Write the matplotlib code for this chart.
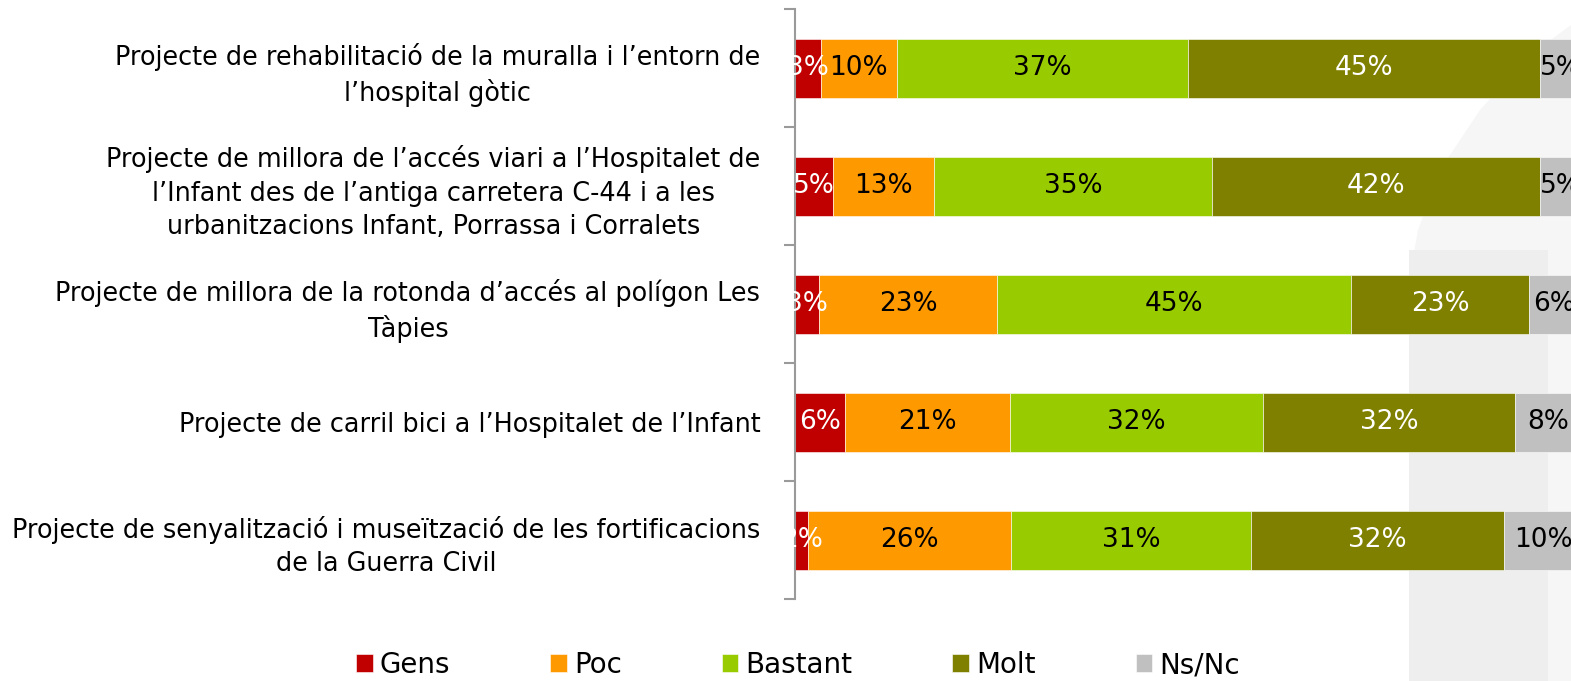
import numpy as np
import matplotlib.pyplot as plt
from matplotlib.patches import Polygon

plt.rcParams['font.family'] = ['DejaVu Sans']

projects = [
    "Projecte de rehabilitació de la muralla i l’entorn de\nl’hospital gòtic",
    "Projecte de millora de l’accés viari a l’Hospitalet de\nl’Infant des de l’antiga carretera C-44 i a les\nurbanitzacions Infant, Porrassa i Corralets",
    "Projecte de millora de la rotonda d’accés al polígon Les\nTàpies",
    "Projecte de carril bici a l’Hospitalet de l’Infant",
    "Projecte de senyalització i museïtzació de les fortificacions\nde la Guerra Civil",
]
categories = ['Gens', 'Poc', 'Bastant', 'Molt', 'Ns/Nc']
gens = [3.3, 4.8, 3.1, 6.4, 1.7]
poc = [9.6, 12.9, 22.6, 20.9, 25.7]
bastant = [37.0, 35.3, 45.0, 32.2, 30.6]
molt = [44.8, 41.7, 22.6, 32.0, 32.1]
nsnc = [5.3, 5.3, 6.4, 8.4, 9.9]

colors = ['#C00000', '#FF9900', '#99CC00', '#808000', '#C0C0C0']
text_colors = ['white', 'black', 'black', 'white', 'black']

W, H = 1571, 681
fig = plt.figure(figsize=(W / 100, H / 100), dpi=100)

# faint background decoration on the right
bg = fig.add_axes([0, 0, 1, 1], zorder=0)
bg.set_xlim(0, W)
bg.set_ylim(H, 0)
bg.axis('off')
bg.add_patch(Polygon([(1409, 681), (1409, 280), (1418, 230), (1440, 170), (1480, 110),
                      (1530, 55), (1571, 25), (1571, 681)], closed=True,
                     facecolor='#F6F6F6', edgecolor='none'))
bg.add_patch(Polygon([(1409, 681), (1409, 250), (1548, 250), (1548, 681)], closed=True,
                     facecolor='#EEEEEE', edgecolor='none'))

ax = fig.add_axes([795 / W, 1 - 599 / H, 787 / W, 590 / H], zorder=1)
ax.patch.set_alpha(0)

series = [gens, poc, bastant, molt, nsnc]
y = np.arange(len(projects))
left = np.zeros(len(projects))
for vals, name, col, tcol in zip(series, categories, colors, text_colors):
    vals = np.array(vals)
    ax.barh(y, vals, left=left, height=0.5, color=col, label=name,
            edgecolor='white', linewidth=0.4, clip_on=False)
    for yi, l, v in zip(y, left, vals):
        ax.text(l + v / 2, yi, f"{round(v)}%", ha='center', va='center',
                color=tcol, fontsize=19, clip_on=False)
    left += vals

ax.set_xlim(0, 100)
ax.set_ylim(len(projects) - 0.5, -0.5)
ax.set_xticks([])
ax.set_yticks(y)
ax.set_yticklabels(projects, fontsize=18.4, multialignment='center', linespacing=1.37)
ax.set_yticks(np.arange(-0.5, len(projects)), minor=True)
ax.tick_params(axis='y', which='major', length=0, pad=25)
ax.tick_params(axis='y', which='minor', length=8, color='#9A9A9A', width=1.5)
for s in ['top', 'right', 'bottom']:
    ax.spines[s].set_visible(False)
ax.spines['left'].set_color('#9A9A9A')
ax.spines['left'].set_linewidth(1.5)

handles, labels = ax.get_legend_handles_labels()
fig.legend(handles, labels, loc='center', bbox_to_anchor=(798 / W, 1 - 665 / H),
           ncol=5, frameon=False, fontsize=20, handlelength=0.6, handleheight=0.6,
           handletextpad=0.25, columnspacing=3.6)

fig.savefig('out.png', dpi=100)
